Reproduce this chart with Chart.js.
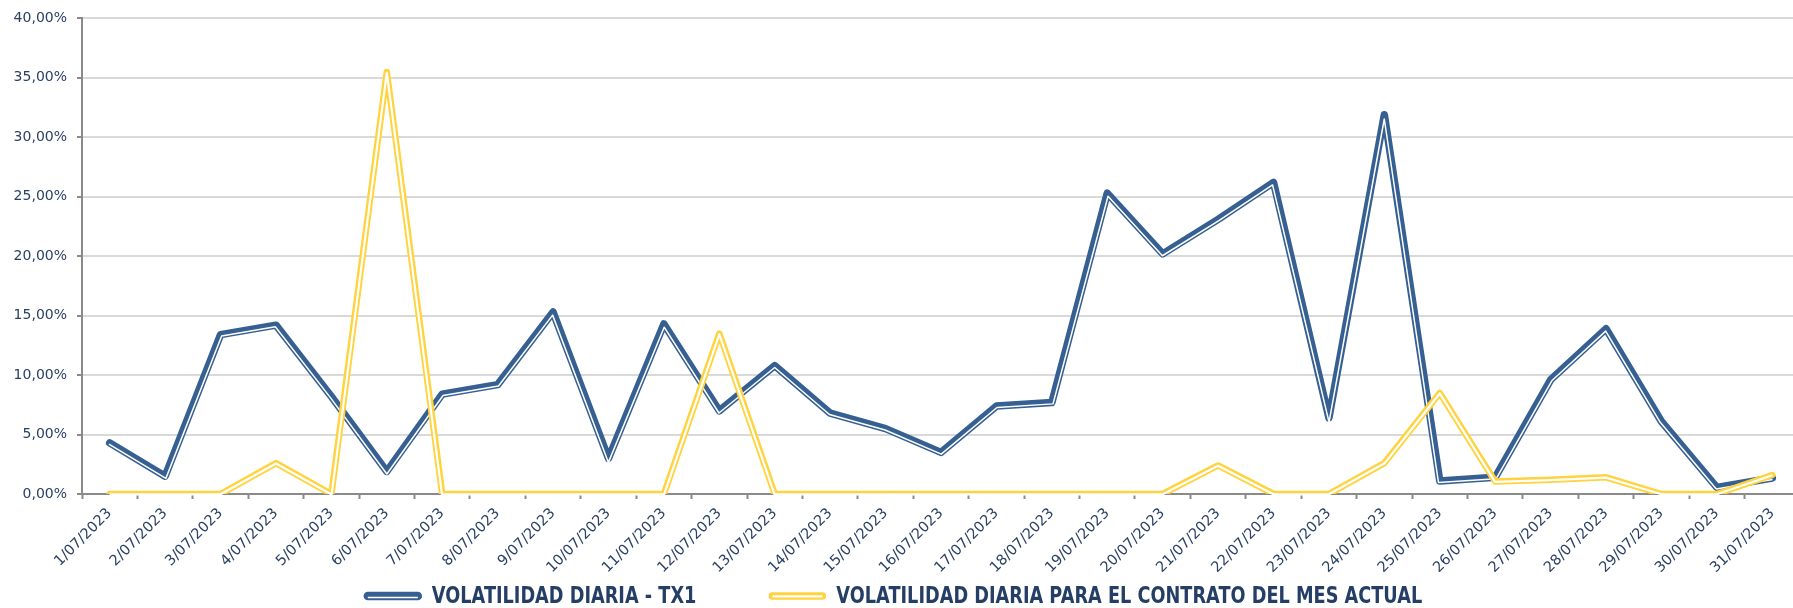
<!DOCTYPE html>
<html>
<head>
<meta charset="utf-8">
<script src="https://cdn.jsdelivr.net/npm/chart.js@4.4.0/dist/chart.umd.min.js"></script>
<style>
  html, body { margin: 0; padding: 0; background: #fff; overflow: hidden; }
  #wrap { position: relative; width: 1800px; height: 608px; }
</style>
</head>
<body>
<div id="wrap"><canvas id="volChart"></canvas></div>
<script>
// datos (en %)
var dias = ["1/07/2023", "2/07/2023", "3/07/2023", "4/07/2023", "5/07/2023", "6/07/2023",
  "7/07/2023", "8/07/2023", "9/07/2023", "10/07/2023", "11/07/2023", "12/07/2023",
  "13/07/2023", "14/07/2023", "15/07/2023", "16/07/2023", "17/07/2023", "18/07/2023",
  "19/07/2023", "20/07/2023", "21/07/2023", "22/07/2023", "23/07/2023", "24/07/2023",
  "25/07/2023", "26/07/2023", "27/07/2023", "28/07/2023", "29/07/2023", "30/07/2023",
  "31/07/2023"];

var volTx1 = [4.3, 1.5, 13.4, 14.2, 8.2, 1.9, 8.4, 9.2, 15.3, 3.0, 14.3, 7.0, 10.8, 6.8, 5.5, 3.5,
  7.4, 7.7, 25.3, 20.2, 23.1, 26.2, 6.4, 31.9, 1.1, 1.4, 9.6, 13.9, 6.1, 0.55, 1.35];

var volMes = [0, 0, 0, 2.6, 0, 35.5, 0, 0, 0, 0, 0, 13.5, 0, 0, 0, 0,
  0, 0, 0, 0, 2.4, 0, 0, 2.6, 8.5, 1.05, 1.2, 1.4, 0, 0, 1.6];

var nombres = ["VOLATILIDAD DIARIA - TX1", "VOLATILIDAD DIARIA PARA EL CONTRATO DEL MES ACTUAL"];

var azul = "#376092", amarillo = "#ffd33d";
var txtColor = "#2b4164", ejeColor = "#8a8a8a";

function normal(a, b) {
  var dx = b.x - a.x, dy = b.y - a.y, l = Math.hypot(dx, dy) || 1;
  return { x: -dy / l, y: dx / l };
}

// linea paralela desplazada (para la linea blanca interior)
function desplazar(pts, d) {
  var out = [];
  for (var i = 0; i < pts.length; i++) {
    var p = pts[i], a = pts[i - 1], b = pts[i + 1];
    var n1 = a ? normal(a, p) : null, n2 = b ? normal(p, b) : null;
    var nx, ny, k = 1;
    if (n1 && n2) {
      nx = n1.x + n2.x; ny = n1.y + n2.y;
      var l = Math.hypot(nx, ny) || 1;
      nx /= l; ny /= l;
      k = 1 / Math.max(0.35, nx * n1.x + ny * n1.y);
    } else {
      var n = n1 || n2; nx = n.x; ny = n.y;
    }
    out.push({ x: p.x + nx * d * k, y: p.y + ny * d * k });
  }
  return out;
}

function trazar(ctx, pts) {
  ctx.beginPath();
  pts.forEach(function (p, i) { i ? ctx.lineTo(p.x, p.y) : ctx.moveTo(p.x, p.y); });
  ctx.stroke();
}

var lineaDoble = {
  id: "lineaDoble",
  afterDatasetDraw: function (chart, args) {
    var ds = chart.data.datasets[args.index];
    var pts = args.meta.data.map(function (p) { return { x: p.x, y: p.y }; });
    var ctx = chart.ctx;
    ctx.save();
    ctx.strokeStyle = "#fff";
    ctx.lineWidth = ds.blancoW;
    ctx.lineJoin = "round";
    ctx.lineCap = "butt";
    trazar(ctx, desplazar(pts, ds.blancoOff));
    ctx.restore();
  }
};

function simbolo(ctx, x0, x1, y, ds) {
  ctx.save();
  ctx.lineCap = "round";
  ctx.strokeStyle = ds.borderColor;
  ctx.lineWidth = ds.borderWidth + 1;
  ctx.beginPath(); ctx.moveTo(x0 + 4, y); ctx.lineTo(x1 - 4, y); ctx.stroke();
  ctx.strokeStyle = "#fff";
  ctx.lineWidth = ds.blancoW;
  ctx.lineCap = "butt";
  ctx.beginPath(); ctx.moveTo(x0 + 4, y + ds.blancoOff); ctx.lineTo(x1 - 4, y + ds.blancoOff); ctx.stroke();
  ctx.restore();
}

var leyenda = {
  id: "leyenda",
  afterDraw: function (chart) {
    var ctx = chart.ctx, y = 596, sx = 0.77, largo = 58, sep = 10, entre = 72;
    ctx.save();
    ctx.font = 'bold 23px "DejaVu Sans"';
    var items = chart.data.datasets.map(function (ds) {
      return { ds: ds, w: ctx.measureText(ds.label).width * sx };
    });
    var total = items.reduce(function (s, it) { return s + largo + sep + it.w; }, 0) + entre * (items.length - 1);
    var x = 893 - total / 2;
    items.forEach(function (it) {
      simbolo(ctx, x, x + largo, y, it.ds);
      ctx.save();
      ctx.translate(x + largo + sep, y);
      ctx.scale(sx, 1);
      ctx.fillStyle = "#243e66";
      ctx.textBaseline = "middle";
      ctx.fillText(it.ds.label, 0, 1);
      ctx.restore();
      x += largo + sep + it.w + entre;
    });
    ctx.restore();
  }
};

new Chart(document.getElementById("volChart"), {
  type: "line",
  data: {
    labels: dias,
    datasets: [
      {
        label: nombres[0], data: volTx1, borderColor: azul, borderWidth: 7.5,
        blancoW: 1.5, blancoOff: 1.5, order: 1
      },
      {
        label: nombres[1], data: volMes, borderColor: amarillo, borderWidth: 6.5,
        blancoW: 2.2, blancoOff: 0.3, order: 0
      }
    ]
  },
  options: {
    responsive: true,
    maintainAspectRatio: false,
    animation: false,
    layout: { padding: { top: 16, left: 13, right: 0, bottom: 36 } },
    elements: {
      point: { radius: 0, hoverRadius: 0 },
      line: { tension: 0, fill: false, borderCapStyle: "round", borderJoinStyle: "round" }
    },
    plugins: { legend: { display: false }, tooltip: { enabled: false } },
    scales: {
      x: {
        offset: true,
        afterFit: function (s) { s.height = 78; },
        ticks: {
          color: txtColor, font: { family: "DejaVu Sans", size: 14.5 },
          minRotation: 45, maxRotation: 45, autoSkip: false, padding: 6
        },
        grid: { offset: true, drawOnChartArea: false, tickLength: 5, tickColor: ejeColor, tickWidth: 2 },
        border: { color: ejeColor, width: 2 }
      },
      y: {
        min: 0, max: 40,
        afterFit: function (s) { s.width = 69; },
        ticks: {
          stepSize: 5, color: txtColor, font: { family: "DejaVu Sans", size: 14 }, padding: 10,
          callback: function (v) { return v.toFixed(2).replace(".", ",") + "%"; }
        },
        grid: { color: "#d9d9d9", lineWidth: 2, tickColor: ejeColor, tickLength: 5, tickWidth: 2 },
        border: { color: ejeColor, width: 2 }
      }
    }
  },
  plugins: [lineaDoble, leyenda]
});
</script>
</body>
</html>
